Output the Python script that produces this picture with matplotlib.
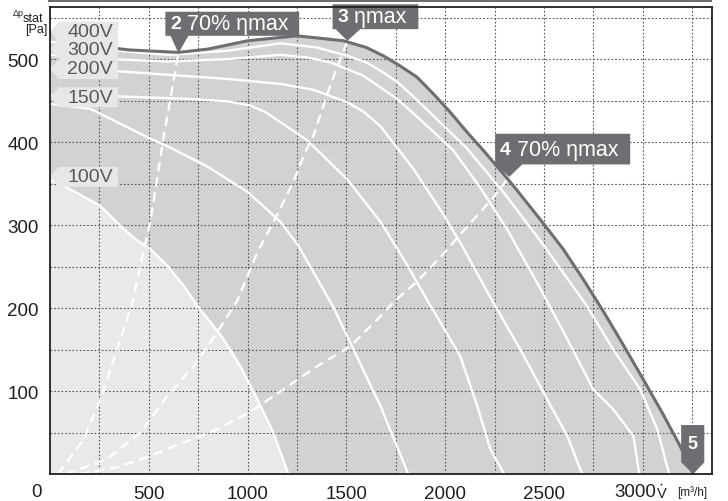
import numpy as np
import matplotlib
matplotlib.use("Agg")
import matplotlib.pyplot as plt
from matplotlib.patches import Polygon, Rectangle, Ellipse

plt.rcParams["font.family"] = ["Liberation Sans", "DejaVu Sans"]

# ── Daten (V in m3/h, p in Pa) ─────────────────────────────────────────
v_400 = [0, 120, 250, 400, 650, 800, 1000, 1250, 1485, 1600, 1686, 1770, 1858, 1940, 2025, 2110,
         2200, 2339, 2470, 2597, 2700, 2800, 2900, 3002, 3100, 3188, 3255]
p_400 = [533, 522, 515, 511, 508, 512, 522, 528, 522, 514, 504, 492, 478, 458, 436, 412,
         388, 349, 310, 271, 234, 196, 156, 114, 73, 34, 0]

v_300 = [0, 300, 600, 900, 1166, 1350, 1504, 1600, 1672, 1760, 1838, 1990, 2111, 2300, 2500, 2718, 2850, 2987, 3073, 3133]
p_300 = [521, 511, 505, 510, 519, 514, 504, 496, 486, 472, 455, 420, 392, 338, 275, 202, 150, 102, 54, 0]

v_250 = [0, 300, 600, 900, 1166, 1300, 1418, 1585, 1757, 1924, 2041, 2177, 2313, 2466, 2617, 2749, 2850, 2952, 2982]
p_250 = [505, 500, 497, 500, 505, 502, 496, 480, 452, 416, 390, 345, 295, 230, 163, 102, 78, 46, 0]

v_200 = [0, 300, 600, 900, 1166, 1332, 1504, 1590, 1672, 1838, 1990, 2090, 2230, 2380, 2516, 2617, 2693]
p_200 = [490, 486, 481, 476, 470, 463, 448, 436, 419, 368, 313, 273, 212, 150, 90, 46, 0]

v_150 = [0, 350, 700, 900, 1015, 1090, 1166, 1302, 1504, 1672, 1800, 1915, 2076, 2162, 2228, 2298]
p_150 = [456, 455, 452, 449, 444, 436, 424, 402, 355, 304, 255, 207, 142, 82, 30, 0]

v_130 = [0, 204, 508, 594, 800, 999, 1166, 1257, 1434, 1672, 1813]
p_130 = [446, 440, 404, 395, 370, 340, 304, 275, 201, 82, 0]

v_100 = [0, 127, 255, 356, 432, 508, 594, 676, 745, 877, 963, 1049, 1130, 1206]
p_100 = [355, 340, 323, 299, 283, 271, 251, 227, 203, 163, 130, 90, 50, 0]

# Wirkungsgradlinien (gestrichelt)
v_eta2 = [40, 171, 255, 341, 417, 457, 508, 575, 650]
p_eta2 = [0, 42, 90, 151, 207, 251, 304, 406, 507]
v_eta3 = [80, 290, 457, 594, 727, 847, 948, 1049, 1151, 1231, 1292, 1332, 1418, 1505]
p_eta3 = [0, 18, 50, 94, 130, 171, 209, 267, 313, 352, 388, 407, 468, 522]
v_eta4 = [150, 340, 508, 676, 847, 1014, 1182, 1353, 1520, 1672, 1738, 1858, 1990, 2111, 2243, 2324]
p_eta4 = [0, 8, 22, 38, 54, 75, 102, 130, 154, 190, 207, 232, 265, 298, 333, 358]

kurven = [(v_300, p_300), (v_250, p_250), (v_200, p_200), (v_150, p_150), (v_130, p_130), (v_100, p_100)]
eta_linien = [(v_eta2, p_eta2), (v_eta3, p_eta3), (v_eta4, p_eta4)]

spannungen = ["400V", "300V", "200V", "150V", "100V"]
label_p = [533, 512, 488, 454, 358]

x_ticks = [500, 1000, 1500, 2000, 2500, 3000]
y_ticks = [100, 200, 300, 400, 500]

# ── Farben ────────────────────────────────────────────────────────────
DUNKEL = "#6d6e71"
MITTEL = "#d1d2d4"
HELL = "#e9e9eb"
LABEL_BG = "#e6e7e8"
LABEL_TXT = "#58595b"
SCHWARZ = "#231f20"

W, H = 728, 502
fig = plt.figure(figsize=(W / 100, H / 100), dpi=100)
ax = fig.add_axes([50 / W, (H - 475) / H, 662 / W, 467 / H])
ax.set_xlim(0, 3350)
ax.set_ylim(0, 562.7)

# Flächen
ax.fill_between(v_400, p_400, 0, color=MITTEL, lw=0, zorder=1)
ax.fill_between(v_100, p_100, 0, color=HELL, lw=0, zorder=1.1)

# Raster
ax.vlines(np.arange(250, 3350, 250), 0, 562.7, colors="#555555", lw=0.8,
          linestyles=(0, (1.5, 1.8)), zorder=2)
ax.hlines(np.arange(50, 560, 50), 0, 3350, colors="#555555", lw=0.8,
          linestyles=(0, (1.5, 1.8)), zorder=2)

for v, p in kurven:
    ax.plot(v, p, color="white", lw=1.7, zorder=3, solid_joinstyle="round")
for v, p in eta_linien:
    ax.plot(v, p, color="white", lw=1.7, ls=(0, (4, 2.5)), zorder=3)
ax.plot(v_400, p_400, color=DUNKEL, lw=2.2, zorder=4, solid_joinstyle="round")

# Spannungs-Labels (Pfeilform nach links)
px_v = 1 / 0.19767
px_p = 1 / 0.83
for txt, pc in zip(spannungen, label_p):
    hh = 10 * px_p
    poly = [(0, pc), (9 * px_v, pc + hh), (68 * px_v, pc + hh),
            (68 * px_v, pc - hh), (9 * px_v, pc - hh)]
    ax.add_patch(Polygon(poly, closed=True, fc=LABEL_BG, ec="none", zorder=5))
    ax.text(40 * px_v, pc, txt, ha="center", va="center", fontsize=14,
            color=LABEL_TXT, zorder=6)

# Markierungen (dunkle Kästen mit Spitze)
def marker(x0, x1, y0, y1, b0, b1, tip, nr, rest):
    pts = [(x0, y1), (x1, y1), (x1, y0), (b1, y0), tip, (b0, y0), (x0, y0)]
    ax.add_patch(Polygon(pts, closed=True, fc=DUNKEL, ec="none", zorder=7, clip_on=False))
    t = ax.text(x0 + 5 * px_v, (y0 + y1) / 2, nr, ha="left", va="center", fontsize=14,
                color="white", fontweight="bold", zorder=8, clip_on=False)
    ax.annotate(rest, xycoords=t, xy=(1, 0.5), va="center", ha="left",
                fontsize=15.5, color="white", zorder=8, annotation_clip=False)

marker(584, 1261, 528, 557, 610, 700, (650, 507), "2", " 70% ηmax")
marker(1430, 1864, 536, 566, 1445, 1570, (1505, 522), "3", " ηmax")
marker(2253, 2936, 373, 410, 2253, 2390, (2324, 358), "4", " 70% ηmax")
pts5 = [(3194, 14), (3194, 59), (3311, 59), (3311, 14), (3255, 0)]
ax.add_patch(Polygon(pts5, closed=True, fc=DUNKEL, ec="none", zorder=7))
ax.text(3252, 37, "5", ha="center", va="center", fontsize=13, color="white",
        fontweight="bold", zorder=8)

# Achsen
ax.set_xticks(x_ticks)
ax.set_xticklabels([str(t) if t != 3000 else "" for t in x_ticks])
ax.set_yticks(y_ticks)
ax.set_yticklabels([str(t) for t in y_ticks])
ax.tick_params(length=0, labelsize=13.5, pad=8, colors=SCHWARZ)
for s in ax.spines.values():
    s.set_color(SCHWARZ)
    s.set_linewidth(1.3)
    s.set_zorder(9)

fig.text(37 / W, 1 - 493 / H, "0", ha="center", va="center", fontsize=13.5, color=SCHWARZ)
fig.text(635 / W, 1 - 493 / H, "3000", ha="center", va="center", fontsize=13.5, color=SCHWARZ)
fig.text(657 / W, 1 - 494 / H, "V", ha="left", va="center", fontsize=10.5, color=SCHWARZ)
fig.patches.append(Ellipse((661.5 / W, 1 - 485.5 / H), 1.8 / W, 1.8 / H,
                           transform=fig.transFigure, fc=SCHWARZ, ec="none"))
fig.text(677 / W, 1 - 493 / H, "[m³/h]", ha="left", va="center", fontsize=8.5, color=SCHWARZ)
fig.text(13 / W, 1 - 13 / H, "Δp", ha="left", va="center", fontsize=6.5, color=SCHWARZ)
fig.text(23 / W, 1 - 19 / H, "stat", ha="left", va="center", fontsize=9, color=SCHWARZ)
fig.text(25 / W, 1 - 30 / H, "[Pa]", ha="left", va="center", fontsize=9, color=SCHWARZ)

# Balken oben
fig.patches.append(Rectangle((48 / W, 1 - 3 / H), 664 / W, 3 / H, transform=fig.transFigure,
                             fc=DUNKEL, ec="none"))

fig.savefig("out.png", dpi=100)
